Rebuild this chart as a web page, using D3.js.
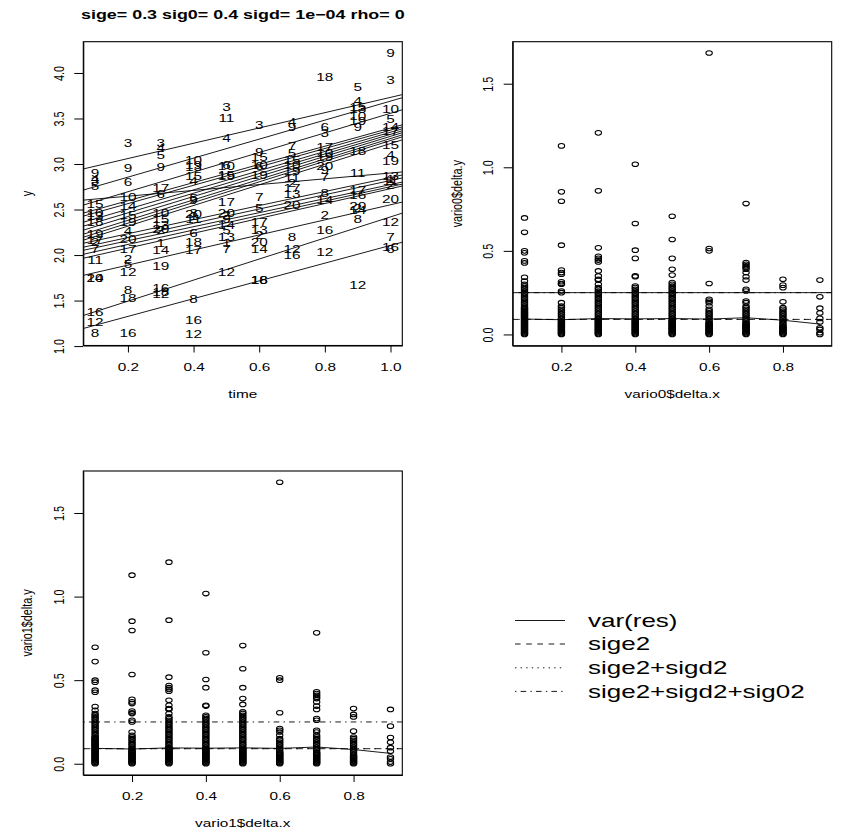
<!DOCTYPE html>
<html>
<head>
<meta charset="utf-8">
<script src="https://cdn.jsdelivr.net/npm/d3@7"></script>
<style>
	body { margin: 0; background: #fff; }
	text { font-family: "Liberation Sans", Arial, sans-serif; fill: #000; }
	.frame { fill: none; stroke: #000; stroke-width: 1.1; }
	.axis path, .axis line { stroke: #000; stroke-width: 1; }
	.fit, .ref { fill: none; stroke: #000; stroke-width: 0.9; }
	.pt { fill: none; stroke: #000; stroke-width: 1.05; }
</style>
</head>
<body>
<script>

var width = 842,
	height = 834,
	SX = 1.42;   // the picture is stretched sideways, text and symbols with it

var title = "sige= 0.3 sig0= 0.4 sigd= 1e\u221204 rho= 0";

// subject, time, y
var obs = [
	[9,0.1,2.90],[4,0.1,2.83],[3,0.1,2.81],[5,0.1,2.76],[15,0.1,2.56],[10,0.1,2.46],[13,0.1,2.43],[18,0.1,2.36],[19,0.1,2.23],
	[17,0.1,2.16],[2,0.1,2.14],[7,0.1,2.07],[11,0.1,1.94],[20,0.1,1.75],[14,0.1,1.75],[16,0.1,1.37],[12,0.1,1.26],[8,0.1,1.14],
	[3,0.2,3.23],[9,0.2,2.96],[6,0.2,2.80],[10,0.2,2.64],[14,0.2,2.54],[15,0.2,2.44],[19,0.2,2.36],[4,0.2,2.26],[20,0.2,2.18],
	[17,0.2,2.06],[2,0.2,1.95],[5,0.2,1.90],[12,0.2,1.81],[8,0.2,1.62],[18,0.2,1.53],[16,0.2,1.14],
	[3,0.3,3.23],[4,0.3,3.18],[5,0.3,3.10],[9,0.3,2.97],[17,0.3,2.74],[6,0.3,2.67],[10,0.3,2.46],[15,0.3,2.39],[13,0.3,2.33],
	[20,0.3,2.29],[2,0.3,2.27],[1,0.3,2.13],[14,0.3,2.05],[19,0.3,1.88],[16,0.3,1.64],[18,0.3,1.59],[12,0.3,1.57],
	[10,0.4,3.04],[19,0.4,2.99],[13,0.4,2.97],[15,0.4,2.87],[4,0.4,2.81],[5,0.4,2.63],[9,0.4,2.60],[3,0.4,2.46],[20,0.4,2.45],
	[1,0.4,2.43],[11,0.4,2.40],[6,0.4,2.24],[18,0.4,2.14],[17,0.4,2.05],[8,0.4,1.52],[16,0.4,1.29],[12,0.4,1.13],
	[3,0.5,3.62],[11,0.5,3.50],[4,0.5,3.28],[6,0.5,2.99],[10,0.5,2.98],[15,0.5,2.88],[19,0.5,2.87],[17,0.5,2.58],[20,0.5,2.46],
	[2,0.5,2.44],[9,0.5,2.40],[14,0.5,2.33],[5,0.5,2.27],[13,0.5,2.20],[1,0.5,2.13],[7,0.5,2.07],[12,0.5,1.81],
	[3,0.6,3.43],[9,0.6,3.13],[15,0.6,3.08],[10,0.6,2.99],[6,0.6,2.98],[19,0.6,2.88],[7,0.6,2.64],[5,0.6,2.52],[17,0.6,2.36],
	[13,0.6,2.27],[2,0.6,2.22],[20,0.6,2.14],[14,0.6,2.07],[18,0.6,1.73],[16,0.6,1.72],
	[4,0.7,3.46],[9,0.7,3.41],[7,0.7,3.20],[5,0.7,3.12],[15,0.7,3.04],[10,0.7,2.99],[19,0.7,2.92],[11,0.7,2.85],[2,0.7,2.79],
	[17,0.7,2.74],[13,0.7,2.67],[20,0.7,2.55],[8,0.7,2.20],[12,0.7,2.07],[16,0.7,2.00],
	[18,0.8,3.96],[6,0.8,3.40],[3,0.8,3.34],[17,0.8,3.19],[10,0.8,3.12],[19,0.8,3.08],[20,0.8,2.98],[9,0.8,2.93],[7,0.8,2.86],
	[8,0.8,2.68],[14,0.8,2.60],[2,0.8,2.44],[16,0.8,2.27],[12,0.8,2.03],
	[5,0.9,3.85],[4,0.9,3.69],[15,0.9,3.63],[13,0.9,3.60],[10,0.9,3.53],[19,0.9,3.47],[9,0.9,3.40],[18,0.9,3.14],[11,0.9,2.90],
	[17,0.9,2.71],[16,0.9,2.66],[20,0.9,2.54],[2,0.9,2.52],[14,0.9,2.49],[8,0.9,2.40],[12,0.9,1.67],
	[9,1.0,4.22],[3,1.0,3.92],[10,1.0,3.60],[5,1.0,3.49],[14,1.0,3.41],[17,1.0,3.36],[15,1.0,3.21],[4,1.0,3.10],[19,1.0,3.03],
	[13,1.0,2.87],[1,1.0,2.83],[11,1.0,2.81],[2,1.0,2.77],[20,1.0,2.62],[12,1.0,2.36],[7,1.0,2.20],[16,1.0,2.09],[6,1.0,2.07]
];

// per-subject fitted lines
var fitA = [2.892,2.647,2.583,2.480,2.397,2.363,2.293,2.248,2.203,2.157,2.123,2.091,2.080,2.036,2.003,1.958,1.913,1.724,1.262,1.131];
var fitB = [0.840,1.044,0.318,1.077,0.998,1.009,1.056,1.078,1.101,1.123,1.135,1.134,0.772,0.783,0.771,0.793,0.816,0.828,1.157,0.975];

// variogram: lags and delta.y at each lag
var lags = [0.1,0.2,0.3,0.4,0.5,0.6,0.7,0.8,0.9];
var dy01 = [0.697,0.611,0.50,0.488,0.44,0.428,0.342,0.32,0.30,0.29,0.28,0.27,0.26,0.25,0.24,0.23,0.22,0.21,0.20,0.19,0.18,0.17,0.16,0.155,0.15,0.145,0.14,0.135,0.13,0.125,0.12,0.115,0.11,0.105,0.10,0.095,0.09,0.085,0.08,0.075,0.07,0.065,0.06,0.055,0.05,0.045,0.04,0.035,0.03,0.025,0.02,0.015,0.01,0.005,0.0];
var dy02 = [1.128,0.853,0.797,0.534,0.385,0.37,0.36,0.315,0.305,0.30,0.26,0.25,0.19,0.17,0.16,0.15,0.14,0.13,0.12,0.11,0.10,0.09,0.08,0.075,0.07,0.065,0.06,0.055,0.05,0.045,0.04,0.035,0.03,0.025,0.02,0.015,0.01,0.005,0.0];
var dy03 = [1.206,0.859,0.518,0.468,0.455,0.445,0.434,0.38,0.35,0.33,0.325,0.30,0.28,0.27,0.26,0.25,0.24,0.23,0.22,0.21,0.20,0.19,0.18,0.17,0.16,0.15,0.14,0.13,0.12,0.11,0.10,0.095,0.09,0.085,0.08,0.075,0.07,0.065,0.06,0.055,0.05,0.045,0.04,0.035,0.03,0.025,0.02,0.015,0.01,0.005,0.0];
var dy04 = [1.018,0.664,0.504,0.455,0.35,0.345,0.29,0.28,0.27,0.26,0.25,0.24,0.23,0.22,0.21,0.20,0.19,0.18,0.17,0.16,0.15,0.14,0.13,0.12,0.11,0.10,0.09,0.085,0.08,0.075,0.07,0.065,0.06,0.055,0.05,0.045,0.04,0.035,0.03,0.025,0.02,0.015,0.01,0.005,0.0];
var dy05 = [0.707,0.568,0.455,0.39,0.355,0.31,0.30,0.29,0.28,0.27,0.26,0.25,0.24,0.23,0.22,0.21,0.20,0.19,0.18,0.17,0.16,0.15,0.14,0.13,0.12,0.11,0.10,0.09,0.085,0.08,0.075,0.07,0.065,0.06,0.055,0.05,0.045,0.04,0.035,0.03,0.025,0.02,0.015,0.01,0.005,0.0];
var dy06 = [1.684,0.514,0.50,0.305,0.21,0.20,0.19,0.17,0.15,0.14,0.13,0.12,0.11,0.10,0.09,0.08,0.07,0.065,0.06,0.055,0.05,0.045,0.04,0.035,0.03,0.025,0.02,0.015,0.01,0.005,0.0];
var dy07 = [0.783,0.43,0.42,0.41,0.40,0.39,0.37,0.345,0.325,0.27,0.26,0.20,0.19,0.17,0.16,0.15,0.14,0.13,0.12,0.11,0.10,0.09,0.08,0.07,0.065,0.06,0.055,0.05,0.045,0.04,0.035,0.03,0.025,0.02,0.015,0.01,0.005,0.0];
var dy08 = [0.33,0.295,0.28,0.195,0.16,0.15,0.14,0.13,0.12,0.11,0.10,0.09,0.08,0.07,0.06,0.05,0.045,0.04,0.035,0.03,0.025,0.02,0.015,0.01,0.005,0.0];
var dy09 = [0.325,0.225,0.157,0.128,0.096,0.075,0.04,0.03,0.01,0.0];
var deltaY = [dy01, dy02, dy03, dy04, dy05, dy06, dy07, dy08, dy09];

var varRes = [0.092,0.088,0.095,0.093,0.095,0.092,0.100,0.085,0.062];
var sige2 = 0.09, sigd2 = 1e-8, sig02 = 0.16;

var legendLabels = ["var(res)", "sige2", "sige2+sigd2", "sige2+sigd2+sig02"];
var legendDash = [null, "5.6,5.6", "1.4,4.2", "1.4,4.2,5.6,4.2"];

var timeTicks = [0.2, 0.4, 0.6, 0.8, 1.0],
	yTicks = [1.0, 1.5, 2.0, 2.5, 3.0, 3.5, 4.0],
	lagTicks = [0.2, 0.4, 0.6, 0.8],
	dyTicks = [0.0, 0.5, 1.0, 1.5];

var svg = d3.select("body").append("svg")
	.attr("width", width)
	.attr("height", height);

function pad(ext) {
	var r = ext[1] - ext[0];
	return [ext[0] - 0.04 * r, ext[1] + 0.04 * r];
}

function panel(box, xDom, yDom, xTicks, yTks, xLab, yLab, id) {
	var x = d3.scaleLinear().domain(xDom).range([box.l, box.r]);
	var y = d3.scaleLinear().domain(yDom).range([box.b, box.t]);

	svg.append("clipPath").attr("id", id)
	  .append("rect")
		.attr("x", box.l).attr("y", box.t)
		.attr("width", box.r - box.l).attr("height", box.b - box.t);

	var gx = svg.append("g").attr("class", "axis")
		.attr("transform", "translate(0," + box.b + ")")
		.call(d3.axisBottom(x).tickValues(xTicks).tickSize(7).tickSizeOuter(0).tickPadding(10.5).tickFormat(d3.format(".1f")));
	gx.attr("font-size", 10.8).attr("font-family", null);
	gx.selectAll("text").attr("transform", "scale(" + SX + ",1)");

	var gy = svg.append("g").attr("class", "axis")
		.attr("transform", "translate(" + box.l + ",0)")
		.call(d3.axisLeft(y).tickValues(yTks).tickSize(9).tickSizeOuter(0).tickFormat(d3.format(".1f")));
	gy.attr("font-size", 10.8).attr("font-family", null);
	gy.selectAll("text")
		.attr("x", 0).attr("dy", null)
		.attr("text-anchor", "middle")
		.attr("transform", "translate(-19.5,0) scale(" + SX + ",1) rotate(-90)");

	svg.append("text")
		.attr("transform", "translate(" + ((box.l + box.r) / 2) + "," + (box.b + 52.3) + ") scale(" + SX + ",1)")
		.attr("text-anchor", "middle")
		.attr("font-size", 10.8)
		.text(xLab);

	svg.append("text")
		.attr("transform", "translate(" + (box.l - 51) + "," + ((box.t + box.b) / 2) + ") scale(" + SX + ",1) rotate(-90)")
		.attr("text-anchor", "middle")
		.attr("font-size", 10.8)
		.text(yLab);

	var g = svg.append("g").attr("clip-path", "url(#" + id + ")");

	svg.append("rect").attr("class", "frame")
		.attr("x", box.l).attr("y", box.t)
		.attr("width", box.r - box.l).attr("height", box.b - box.t);

	return { x: x, y: y, g: g };
}

// ---- top left: data and per-subject lines
var p1 = panel({ l: 83.3, r: 402.3, t: 41.7, b: 345.5 },
	pad(d3.extent(obs, function(d) { return d[1]; })),
	pad(d3.extent(obs, function(d) { return d[2]; })),
	timeTicks, yTicks, "time", "y", "clip1");

p1.g.selectAll("line.fit")
	.data(fitA)
  .enter().append("line")
	.attr("class", "fit")
	.attr("x1", p1.x(p1.x.domain()[0]))
	.attr("x2", p1.x(p1.x.domain()[1]))
	.attr("y1", function(a, i) { return p1.y(a + fitB[i] * p1.x.domain()[0]); })
	.attr("y2", function(a, i) { return p1.y(a + fitB[i] * p1.x.domain()[1]); });

p1.g.selectAll("text.lab")
	.data(obs)
  .enter().append("text")
	.attr("class", "lab")
	.attr("transform", function(d) { return "translate(" + p1.x(d[1]) + "," + p1.y(d[2]) + ") scale(" + SX + ",1)"; })
	.attr("dy", "0.36em")
	.attr("text-anchor", "middle")
	.attr("font-size", 10.8)
	.text(function(d) { return d[0]; });

svg.append("text")
	.attr("transform", "translate(242.8,18.5) scale(" + SX + ",1)")
	.attr("text-anchor", "middle")
	.attr("font-size", 12.6)
	.attr("font-weight", "bold")
	.text(title);

// ---- variograms
var points = [];
lags.forEach(function(l, i) {
	deltaY[i].forEach(function(v) { points.push([l, v]); });
});

function vario(box, xLab, yLab, id, solidTop) {
	var p = panel(box,
		pad(d3.extent(lags)),
		pad(d3.extent(points, function(d) { return d[1]; })),
		lagTicks, dyTicks, xLab, yLab, id);

	p.g.selectAll("ellipse")
		.data(points)
	  .enter().append("ellipse")
		.attr("class", "pt")
		.attr("cx", function(d) { return p.x(d[0]); })
		.attr("cy", function(d) { return p.y(d[1]); })
		.attr("rx", 3.2)
		.attr("ry", 2.3);

	var xd = p.x.domain();
	var refs = [
		{ v: sige2, dash: legendDash[1] },
		{ v: sige2 + sigd2, dash: legendDash[2] },
		{ v: sige2 + sigd2 + sig02, dash: legendDash[3] }
	];
	if (solidTop) refs.push({ v: sige2 + sigd2 + sig02, dash: null });

	p.g.selectAll("line.ref")
		.data(refs)
	  .enter().append("line")
		.attr("class", "ref")
		.attr("x1", p.x(xd[0])).attr("x2", p.x(xd[1]))
		.attr("y1", function(d) { return p.y(d.v); })
		.attr("y2", function(d) { return p.y(d.v); })
		.attr("stroke-dasharray", function(d) { return d.dash; });

	p.g.append("path")
		.datum(varRes)
		.attr("class", "ref")
		.attr("d", d3.line()
			.x(function(d, i) { return p.x(lags[i]); })
			.y(function(d) { return p.y(d); }));
}

vario({ l: 512.7, r: 831.7, t: 41.7, b: 345.7 }, "vario0$delta.x", "vario0$delta.y", "clip2", true);
vario({ l: 83.3, r: 402.3, t: 471, b: 775 }, "vario1$delta.x", "vario1$delta.y", "clip3", false);

// ---- legend
var legendY = [620.5, 644, 667.8, 691.4];
var leg = svg.append("g");
leg.selectAll("line")
	.data(legendLabels)
  .enter().append("line")
	.attr("class", "ref")
	.attr("x1", 515).attr("x2", 565)
	.attr("y1", function(d, i) { return legendY[i]; })
	.attr("y2", function(d, i) { return legendY[i]; })
	.attr("stroke-dasharray", function(d, i) { return legendDash[i]; });
leg.selectAll("text")
	.data(legendLabels)
  .enter().append("text")
	.attr("transform", function(d, i) { return "translate(588," + legendY[i] + ") scale(" + SX + ",1)"; })
	.attr("dy", "0.35em")
	.attr("font-size", 18.3)
	.text(function(d) { return d; });

</script>
</body>
</html>
